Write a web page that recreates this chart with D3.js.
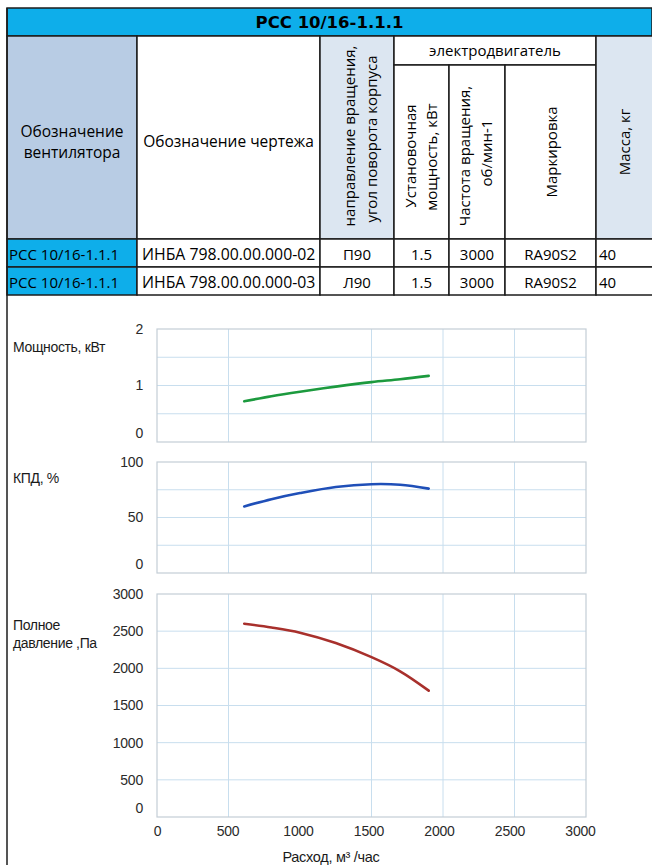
<!DOCTYPE html>
<html><head><meta charset="utf-8">
<script src="https://cdn.jsdelivr.net/npm/d3@7"></script>
<style>body{margin:0;background:#fff}svg{display:block}</style>
</head><body><svg id="c" width="652" height="865"></svg>
<script>
// ---------- table data ----------
const titleText = "РСС 10/16-1.1.1";
const headerA = ["Обозначение", "вентилятора"];
const headerB = "Обозначение чертежа";
const headerC = ["направление вращения,", "угол поворота корпуса"];
const motorHeader = "электродвигатель";
const headerPower = ["Установочная", "мощность, кВт"];
const headerSpeed = ["Частота вращения,", "об/мин-1"];
const headerMark = "Маркировка";
const headerMass = "Масса, кг";
const rowDesignations = ["РСС 10/16-1.1.1", "РСС 10/16-1.1.1"];
const rowDrawings = ["ИНБА 798.00.00.000-02", "ИНБА 798.00.00.000-03"];
const rowRotation = ["П90", "Л90"];
const rowPower = ["1.5", "1.5"];
const rowSpeed = ["3000", "3000"];
const rowMark = ["RA90S2", "RA90S2"];
const rowMass = ["40", "40"];

// ---------- chart data ----------
const flow = [610, 800, 1000, 1250, 1500, 1700, 1900];
const power = [0.72, 0.81, 0.89, 0.98, 1.06, 1.11, 1.17];
const efficiency = [60, 66.5, 72, 77.5, 80, 79.5, 76];
const pressure = [2600, 2550, 2480, 2340, 2150, 1960, 1700];
const xTicks = [0, 500, 1000, 1500, 2000, 2500, 3000];
const xGridTicks = [500, 1500, 2000, 2500];
const powerTicks = [0, 1, 2];
const powerGrid = [0.5, 1, 1.5];
const effTicks = [0, 50, 100];
const effGrid = [25, 50, 75];
const pressTicks = [0, 500, 1000, 1500, 2000, 2500, 3000];
const pressGrid = [500, 1000, 1500, 2000, 2500];

const svg = d3.select("#c");
const TFONT = "'Open Sans', 'Noto Sans', sans-serif";
const CFONT = "'Liberation Sans', Arial, sans-serif";
const CYAN = "#0eaeea", HEADA = "#b8cce4", HEADC = "#dce6f1", LINE = "#1c1c1c";

// ---------- table layout ----------
const X = [7, 137, 320, 394, 449, 505, 596, 652];
const Y = {top: 8, title: 36, motor: 65, head: 239, r1: 267, r2: 295};
const tbl = svg.append("g");

function cell(x0, x1, y0, y1, fill) {
  tbl.append("rect").attr("x", x0).attr("y", y0).attr("width", x1 - x0).attr("height", y1 - y0)
    .attr("fill", fill).attr("stroke", LINE).attr("stroke-width", 1.5);
}
function txt(x, y, s, opt = {}) {
  return tbl.append("text").attr("x", x).attr("y", y).text(s)
    .attr("font-family", opt.font || TFONT).attr("font-size", opt.size || 15)
    .attr("font-weight", opt.weight || 500).attr("fill", "#000")
    .attr("text-anchor", opt.anchor || "middle").attr("dominant-baseline", "central");
}
function vtxt(x, y, s, size) {
  tbl.append("text").attr("transform", `translate(${x},${y}) rotate(-90)`).text(s)
    .attr("font-family", TFONT).attr("font-size", size || 15).attr("font-weight", 500).attr("fill", "#000")
    .attr("text-anchor", "middle").attr("dominant-baseline", "central");
}

// title
cell(X[0], X[7], Y.top, Y.title, CYAN);
txt((X[0] + X[7]) / 2, 22, titleText, {font: "'DejaVu Sans', sans-serif", weight: "bold", size: 16.5});

// header
cell(X[0], X[1], Y.title, Y.head, HEADA);
cell(X[1], X[2], Y.title, Y.head, "#fff");
cell(X[2], X[3], Y.title, Y.head, HEADC);
cell(X[3], X[6], Y.title, Y.motor, "#fff");
cell(X[3], X[4], Y.motor, Y.head, "#fff");
cell(X[4], X[5], Y.motor, Y.head, "#fff");
cell(X[5], X[6], Y.motor, Y.head, "#fff");
cell(X[6], X[7] + 5, Y.title, Y.head, HEADC);

txt(72, 131, headerA[0], {size: 15.5});
txt(72, 152, headerA[1], {size: 15.5});
txt((X[1] + X[2]) / 2, 141, headerB, {size: 15.5});
vtxt(349, 136, headerC[0]);
vtxt(371, 139, headerC[1]);
txt((X[3] + X[6]) / 2, 50, motorHeader);
vtxt(410, 156, headerPower[0]);
vtxt(431, 157, headerPower[1]);
vtxt(464, 156, headerSpeed[0]);
vtxt(486, 153, headerSpeed[1]);
vtxt((X[5] + X[6]) / 2, 152, headerMark);
vtxt(624, 142, headerMass);

// rows
const rowY = [[Y.head, Y.r1], [Y.r1, Y.r2]];
rowY.forEach(([y0, y1], i) => {
  cell(X[0], X[1], y0, y1, CYAN);
  for (let c = 1; c < 6; c++) cell(X[c], X[c + 1], y0, y1, "#fff");
  cell(X[6], X[7] + 5, y0, y1, "#fff");
  const cy = (y0 + y1) / 2 + 1;
  txt(9, cy, rowDesignations[i], {anchor: "start"});
  txt(142, cy, rowDrawings[i], {anchor: "start", size: 15.8});
  txt((X[2] + X[3]) / 2, cy, rowRotation[i]);
  txt((X[3] + X[4]) / 2, cy, rowPower[i]);
  txt((X[4] + X[5]) / 2, cy, rowSpeed[i]);
  txt((X[5] + X[6]) / 2, cy, rowMark[i]);
  txt(599, cy, rowMass[i], {anchor: "start"});
});

// outer frame for chart panel
svg.append("line").attr("x1", 7).attr("x2", 7).attr("y1", Y.top).attr("y2", 865)
  .attr("stroke", LINE).attr("stroke-width", 1.5);

// ---------- charts ----------
const x = d3.scaleLinear().domain([0, 3000]).range([157, 586]);
const xLab = d3.scaleLinear().domain([0, 3000]).range([157, 580]);
const fmt = d3.format("d");

const panels = [
  {y: d3.scaleLinear().domain([0, 2]).range([442, 329]), ticks: powerTicks, grid: powerGrid,
   vals: power, color: "#1c9a3e", title: ["Мощность, кВт"], ty: 347},
  {y: d3.scaleLinear().domain([0, 100]).range([573, 462]), ticks: effTicks, grid: effGrid,
   vals: efficiency, color: "#1f4fb8", title: ["КПД, %"], ty: 478},
  {y: d3.scaleLinear().domain([0, 3000]).range([817, 594]), ticks: pressTicks, grid: pressGrid,
   vals: pressure, color: "#a8302c", title: ["Полное", "давление ,Па"], ty: 625}
];

panels.forEach((p) => {
  const g = svg.append("g");
  const [yb, yt] = p.y.range();
  g.selectAll(".hg").data(p.grid).join("line")
    .attr("x1", x(0)).attr("x2", x(3000)).attr("y1", d => p.y(d)).attr("y2", d => p.y(d))
    .attr("stroke", "#c8deee").attr("stroke-width", 1);
  g.selectAll(".vg").data(xGridTicks).join("line")
    .attr("x1", d => x(d)).attr("x2", d => x(d)).attr("y1", yt).attr("y2", yb)
    .attr("stroke", "#c8deee").attr("stroke-width", 1);
  g.append("rect").attr("x", x(0)).attr("y", yt).attr("width", x(3000) - x(0)).attr("height", yb - yt)
    .attr("fill", "none").attr("stroke", "#c4cdd6").attr("stroke-width", 1.2);

  const ax = g.append("g").attr("transform", "translate(143,0)")
    .call(d3.axisLeft(p.y).tickValues(p.ticks).tickFormat(fmt).tickSize(0).tickPadding(0));
  ax.select(".domain").remove();
  ax.selectAll("text").attr("font-family", CFONT).attr("font-size", 14).attr("fill", "#2a2a2a")
    .attr("letter-spacing", "-0.2")
    .attr("dy", d => d === 0 ? "-0.3em" : "0.32em");

  p.title.forEach((t, k) => {
    g.append("text").attr("x", 13).attr("y", p.ty + k * 18).text(t)
      .attr("font-family", CFONT).attr("font-size", 14).attr("fill", "#1a1a1a")
      .attr("letter-spacing", "-0.35").attr("dominant-baseline", "central");
  });

  const line = d3.line().x((d, i) => x(flow[i])).y(d => p.y(d)).curve(d3.curveCatmullRom);
  g.append("path").attr("d", line(p.vals)).attr("fill", "none")
    .attr("stroke", p.color).attr("stroke-width", 2.6).attr("stroke-linecap", "round");
});

const xa = svg.append("g").attr("transform", "translate(0,826)")
  .call(d3.axisBottom(xLab).tickValues(xTicks).tickFormat(fmt).tickSize(0).tickPadding(0));
xa.select(".domain").remove();
xa.selectAll("text").attr("font-family", CFONT).attr("font-size", 14).attr("fill", "#2a2a2a")
  .attr("letter-spacing", "-0.2");

svg.append("text").attr("x", 331).attr("y", 857).text("Расход, м³ /час")
  .attr("font-family", CFONT).attr("font-size", 14.5).attr("fill", "#1a1a1a")
  .attr("letter-spacing", "-0.3").attr("text-anchor", "middle").attr("dominant-baseline", "central");
</script></body></html>
